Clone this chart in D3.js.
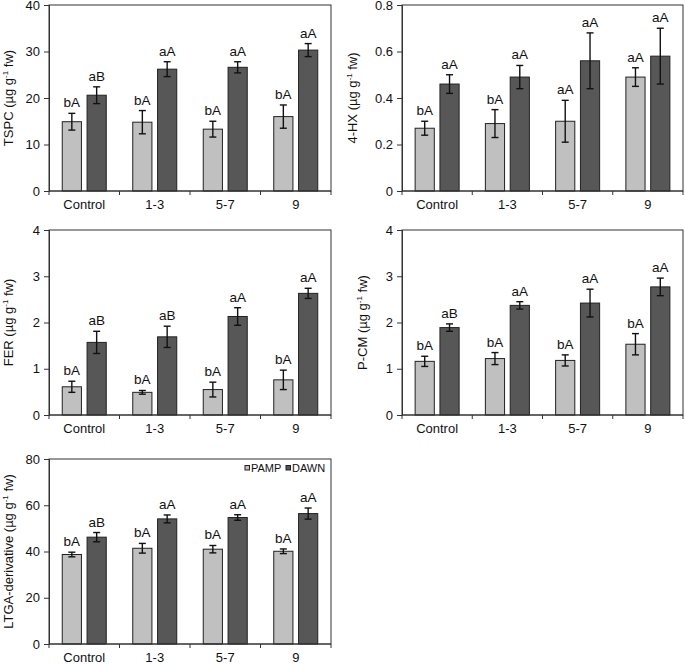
<!DOCTYPE html>
<html>
<head>
<meta charset="utf-8">
<script src="https://cdn.jsdelivr.net/npm/d3@7"></script>
<style>
  body { margin: 0; background: #fff; }
  text { font-family: "Liberation Sans", Arial, sans-serif; fill: #111; }
</style>
</head>
<body>
<div id="chart"></div>
<script>
// data
var categories = ["Control", "1-3", "5-7", "9"];
var series = ["PAMP", "DAWN"];

var tspcPamp = [14.9, 14.8, 13.3, 16.0];
var tspcPampErr = [1.8, 2.5, 1.7, 2.5];
var tspcDawn = [20.6, 26.2, 26.6, 30.3];
var tspcDawnErr = [1.8, 1.6, 1.2, 1.4];
var tspcLetters = [["bA", "aB"], ["bA", "aA"], ["bA", "aA"], ["bA", "aA"]];

var hxPamp = [0.27, 0.29, 0.30, 0.49];
var hxPampErr = [0.03, 0.06, 0.09, 0.04];
var hxDawn = [0.46, 0.49, 0.56, 0.58];
var hxDawnErr = [0.04, 0.05, 0.12, 0.12];
var hxLetters = [["bA", "aA"], ["bA", "aA"], ["aA", "aA"], ["aA", "aA"]];

var ferPamp = [0.61, 0.49, 0.55, 0.76];
var ferPampErr = [0.12, 0.04, 0.16, 0.21];
var ferDawn = [1.57, 1.69, 2.13, 2.63];
var ferDawnErr = [0.24, 0.23, 0.19, 0.11];
var ferLetters = [["bA", "aB"], ["bA", "aB"], ["bA", "aA"], ["bA", "aA"]];

var pcmPamp = [1.16, 1.22, 1.18, 1.53];
var pcmPampErr = [0.11, 0.13, 0.12, 0.23];
var pcmDawn = [1.89, 2.37, 2.42, 2.77];
var pcmDawnErr = [0.08, 0.08, 0.30, 0.19];
var pcmLetters = [["bA", "aB"], ["bA", "aA"], ["bA", "aA"], ["bA", "aA"]];

var ltgaPamp = [38.7, 41.4, 41.0, 40.1];
var ltgaPampErr = [1.0, 2.1, 1.6, 1.0];
var ltgaDawn = [46.2, 54.1, 54.7, 56.4];
var ltgaDawnErr = [2.0, 1.7, 1.2, 2.4];
var ltgaLetters = [["bA", "aB"], ["bA", "aA"], ["bA", "aA"], ["bA", "aA"]];

var tspcTicks = [0, 10, 20, 30, 40];
var hxTicks = [0, 0.2, 0.4, 0.6, 0.8];
var ferTicks = [0, 1, 2, 3, 4];
var pcmTicks = [0, 1, 2, 3, 4];
var ltgaTicks = [0, 20, 40, 60, 80];

var colors = ["#c0c0c0", "#575757"];

var svg = d3.select("#chart").append("svg")
  .attr("width", 685)
  .attr("height", 665);

// panel layout
var panels = [
  {name: "TSPC", pamp: tspcPamp, pampErr: tspcPampErr, dawn: tspcDawn, dawnErr: tspcDawnErr, letters: tspcLetters, ticks: tspcTicks,
   left: 49, right: 331, top: 5, bottom: 191, labelOff: 36},
  {name: "4-HX", pamp: hxPamp, pampErr: hxPampErr, dawn: hxDawn, dawnErr: hxDawnErr, letters: hxLetters, ticks: hxTicks,
   left: 402, right: 683, top: 5, bottom: 191, labelOff: 45},
  {name: "FER", pamp: ferPamp, pampErr: ferPampErr, dawn: ferDawn, dawnErr: ferDawnErr, letters: ferLetters, ticks: ferTicks,
   left: 49, right: 331, top: 230, bottom: 415, labelOff: 36},
  {name: "P-CM", pamp: pcmPamp, pampErr: pcmPampErr, dawn: pcmDawn, dawnErr: pcmDawnErr, letters: pcmLetters, ticks: pcmTicks,
   left: 402, right: 683, top: 230, bottom: 415, labelOff: 35},
  {name: "LTGA-derivative", pamp: ltgaPamp, pampErr: ltgaPampErr, dawn: ltgaDawn, dawnErr: ltgaDawnErr, letters: ltgaLetters, ticks: ltgaTicks,
   left: 49, right: 331, top: 459, bottom: 644, labelOff: 36, legend: true}
];

panels.forEach(function(p) {
  var width = p.right - p.left;
  var height = p.bottom - p.top;
  var g = svg.append("g").attr("transform", `translate(${p.left}, ${p.top})`);

  var x = d3.scaleBand().domain(categories).range([0, width]);
  var bw = x.bandwidth();
  var xSub = d3.scaleBand().domain(series)
    .range([bw / 2 - 22, bw / 2 + 22])
    .paddingInner(0.227);
  var y = d3.scaleLinear()
    .domain([p.ticks[0], p.ticks[p.ticks.length - 1]])
    .range([height, 0]);

  var rows = [];
  categories.forEach(function(c, i) {
    rows.push({cat: c, s: series[0], v: p.pamp[i], e: p.pampErr[i], lab: p.letters[i][0], col: colors[0]});
    rows.push({cat: c, s: series[1], v: p.dawn[i], e: p.dawnErr[i], lab: p.letters[i][1], col: colors[1]});
  });

  // bars
  g.selectAll("rect.bar")
    .data(rows)
    .enter()
    .append("rect")
    .attr("class", "bar")
    .attr("x", d => x(d.cat) + xSub(d.s))
    .attr("y", d => y(d.v))
    .attr("width", xSub.bandwidth())
    .attr("height", d => height - y(d.v))
    .attr("fill", d => d.col)
    .attr("stroke", "#222")
    .attr("stroke-width", 1);

  // error bars
  var cx = d => x(d.cat) + xSub(d.s) + xSub.bandwidth() / 2;
  var eb = g.selectAll("g.err").data(rows).enter().append("g").attr("class", "err")
    .attr("stroke", "#111").attr("stroke-width", 1.4);
  eb.append("line")
    .attr("x1", cx).attr("x2", cx)
    .attr("y1", d => y(d.v + d.e)).attr("y2", d => y(d.v - d.e));
  eb.append("line")
    .attr("x1", d => cx(d) - 3.5).attr("x2", d => cx(d) + 3.5)
    .attr("y1", d => y(d.v + d.e)).attr("y2", d => y(d.v + d.e));
  eb.append("line")
    .attr("x1", d => cx(d) - 3.5).attr("x2", d => cx(d) + 3.5)
    .attr("y1", d => y(d.v - d.e)).attr("y2", d => y(d.v - d.e));

  // significance letters
  g.selectAll("text.sig")
    .data(rows)
    .enter()
    .append("text")
    .attr("class", "sig")
    .attr("x", cx)
    .attr("y", d => y(d.v + d.e) - 6)
    .attr("text-anchor", "middle")
    .attr("font-size", 13.5)
    .text(d => d.lab);

  // frame
  g.append("rect")
    .attr("width", width)
    .attr("height", height)
    .attr("fill", "none")
    .attr("stroke", "#333")
    .attr("stroke-width", 1);

  // axes
  var fmt = d => d === 0 ? "0" : (p.ticks[1] < 1 ? d3.format(".1f")(d) : d3.format("d")(d));
  var leftAxis = d3.axisLeft(y).tickValues(p.ticks).tickFormat(fmt).tickSize(5).tickPadding(4);
  var yAx = g.append("g").call(leftAxis);
  yAx.select(".domain").attr("stroke", "#333");
  yAx.selectAll(".tick line").attr("stroke", "#333");
  yAx.selectAll("text").attr("font-size", 13).attr("font-family", "Liberation Sans, Arial, sans-serif").attr("fill", "#111");

  var xAx = g.append("g").attr("transform", `translate(0, ${height})`);
  xAx.append("line").attr("x1", 0).attr("x2", width).attr("stroke", "#333");
  xAx.selectAll("line.tk")
    .data(d3.range(categories.length + 1))
    .enter()
    .append("line")
    .attr("class", "tk")
    .attr("x1", i => i * bw).attr("x2", i => i * bw)
    .attr("y1", 0).attr("y2", 4)
    .attr("stroke", "#333");
  xAx.selectAll("text")
    .data(categories)
    .enter()
    .append("text")
    .attr("x", d => x(d) + bw / 2)
    .attr("y", 18)
    .attr("text-anchor", "middle")
    .attr("font-size", 13)
    .text(d => d);

  // y label
  var lab = g.append("text")
    .attr("transform", `translate(${-p.labelOff}, ${height / 2}) rotate(-90)`)
    .attr("text-anchor", "middle")
    .attr("font-size", 13);
  lab.append("tspan").text(p.name + " (µg g");
  lab.append("tspan").attr("font-size", 8).attr("dy", -5).text("-1");
  lab.append("tspan").attr("dy", 5).text(" fw)");

  // legend
  if (p.legend) {
    var lg = g.append("g").attr("transform", `translate(${width - 86}, 9)`);
    var items = lg.selectAll("g").data(series).enter().append("g")
      .attr("transform", (d, i) => `translate(${i * 41}, 0)`);
    items.append("rect")
      .attr("x", 0).attr("y", -2.5)
      .attr("width", 4.5).attr("height", 4.5)
      .attr("fill", (d, i) => colors[i])
      .attr("stroke", "#222").attr("stroke-width", 1);
    items.append("text")
      .attr("x", 6).attr("y", 4)
      .attr("font-size", 11)
      .text(d => d);
  }
});
</script>
</body>
</html>
